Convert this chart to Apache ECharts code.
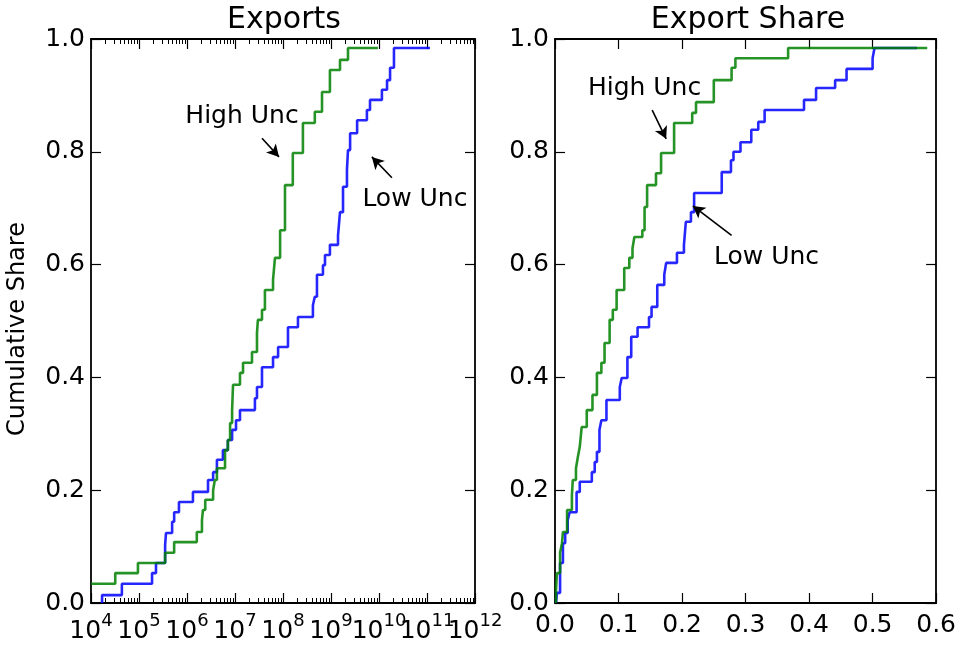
<!DOCTYPE html>
<html>
<head>
<meta charset="utf-8">
<script src="https://cdn.jsdelivr.net/npm/echarts@6/dist/echarts.min.js"></script>
<style>
html,body{margin:0;padding:0;background:#fff;}
#chart{width:959px;height:650px;}
</style>
</head>
<body>
<div id="chart"></div>
<script>
// ---- Data ----
const panelTitles = ['Exports', 'Export Share'];
const yAxisTitle = 'Cumulative Share';
const seriesNames = ['High Unc', 'Low Unc'];

// Left panel: exports (log scale), empirical CDF step points
const highUncExportsX = [1e4, 3.2e4, 9.5e4, 3.5e5, 5.4e5, 1.6e6, 2.05e6, 2.15e6, 2.4e6, 3.5e6, 3.8e6, 4.2e6, 6.2e6, 7.1e6, 7.9e6, 8.7e6, 9.1e6, 1.27e7, 1.47e7, 2.26e7, 2.87e7, 3.0e7, 3.65e7, 4.2e7, 6.2e7, 6.8e7, 8.7e7, 1.1e8, 1.6e8, 2.6e8, 4.6e8, 6.5e8, 9.5e8, 1.54e9, 2.26e9, 9.5e9];
const highUncExportsY = [0.034, 0.053, 0.071, 0.089, 0.108, 0.126, 0.147, 0.165, 0.183, 0.200, 0.218, 0.239, 0.271, 0.289, 0.319, 0.342, 0.387, 0.408, 0.426, 0.445, 0.479, 0.502, 0.520, 0.555, 0.573, 0.612, 0.661, 0.741, 0.798, 0.851, 0.871, 0.906, 0.945, 0.963, 0.984, 0.984];

const lowUncExportsX = [1.7e4, 1.7e4, 4.4e4, 1.87e5, 2.26e5, 3.5e5, 3.65e5, 4.9e5, 5.4e5, 6.8e5, 1.33e6, 2.74e6, 3.5e6, 4.2e6, 5.6e6, 7.1e6, 8.7e6, 1.05e7, 1.27e7, 2.6e7, 2.87e7, 3.65e7, 6.2e7, 7.9e7, 1.27e8, 2.05e8, 4.2e8, 4.6e8, 5.1e8, 6.8e8, 7.5e8, 9.5e8, 1.4e9, 1.54e9, 1.78e9, 2.15e9, 2.26e9, 2.5e9, 3.5e9, 5.6e9, 6.5e9, 1.15e10, 1.47e10, 1.7e10, 2.05e10, 1.15e11];
const lowUncExportsY = [0, 0.014, 0.034, 0.053, 0.071, 0.103, 0.124, 0.144, 0.161, 0.179, 0.197, 0.218, 0.232, 0.254, 0.271, 0.289, 0.307, 0.324, 0.342, 0.363, 0.383, 0.418, 0.436, 0.454, 0.489, 0.507, 0.528, 0.543, 0.582, 0.599, 0.617, 0.635, 0.652, 0.693, 0.738, 0.768, 0.803, 0.833, 0.856, 0.874, 0.892, 0.910, 0.927, 0.949, 0.984, 0.984];

// Right panel: export share, empirical CDF step points
const highUncShareX = [0.0016, 0.0016, 0.003, 0.008, 0.011, 0.0125, 0.019, 0.0266, 0.028, 0.033, 0.036, 0.039, 0.042, 0.05, 0.059, 0.066, 0.073, 0.078, 0.086, 0.091, 0.097, 0.109, 0.117, 0.122, 0.125, 0.1375, 0.141, 0.145, 0.159, 0.167, 0.1875, 0.216, 0.222, 0.25, 0.278, 0.284, 0.367, 0.586];
const highUncShareY = [0, 0.023, 0.053, 0.089, 0.106, 0.126, 0.165, 0.191, 0.218, 0.239, 0.259, 0.277, 0.312, 0.342, 0.369, 0.408, 0.426, 0.461, 0.502, 0.520, 0.555, 0.594, 0.612, 0.629, 0.649, 0.661, 0.702, 0.741, 0.762, 0.798, 0.851, 0.869, 0.888, 0.927, 0.949, 0.966, 0.984, 0.984];

const lowUncShareX = [0.0016, 0.003, 0.008, 0.0125, 0.016, 0.020, 0.023, 0.034, 0.039, 0.058, 0.0625, 0.066, 0.070, 0.073, 0.081, 0.102, 0.105, 0.114, 0.120, 0.130, 0.148, 0.152, 0.161, 0.172, 0.175, 0.192, 0.203, 0.206, 0.214, 0.219, 0.2625, 0.277, 0.281, 0.292, 0.309, 0.320, 0.330, 0.392, 0.411, 0.441, 0.459, 0.5, 0.503, 0.570];
const lowUncShareY = [0, 0.018, 0.071, 0.106, 0.124, 0.147, 0.161, 0.197, 0.215, 0.232, 0.250, 0.268, 0.307, 0.324, 0.360, 0.383, 0.399, 0.436, 0.472, 0.489, 0.507, 0.525, 0.564, 0.582, 0.603, 0.621, 0.635, 0.676, 0.693, 0.727, 0.764, 0.785, 0.800, 0.817, 0.839, 0.853, 0.874, 0.892, 0.913, 0.927, 0.947, 0.966, 0.984, 0.984];

// Tick values
const exportsMajorTicks = [1e4, 1e5, 1e6, 1e7, 1e8, 1e9, 1e10, 1e11, 1e12];
const shareTicks = [0, 0.1, 0.2, 0.3, 0.4, 0.5, 0.6];
const cumTicks = [0, 0.2, 0.4, 0.6, 0.8, 1.0];

// Annotations [textX, textY, arrowFromX, arrowFromY, arrowToX, arrowToY]
const annExportsHigh = [1.4e7, 0.863, 3.65e7, 0.824, 8.26e7, 0.791];
const annExportsLow = [5.6e10, 0.715, 1.86e10, 0.754, 7.1e9, 0.791];
const annShareHigh = [0.141, 0.913, 0.153, 0.874, 0.175, 0.823];
const annShareLow = [0.333, 0.613, 0.278, 0.652, 0.217, 0.704];

// ---- Chart ----
const FONT = 'DejaVu Sans';
const TICK_FS = 25;
const GREEN = 'rgba(0,128,0,0.85)';
const BLUE = 'rgba(0,0,255,0.85)';

const minorExportTicks = [];
for (let n = 4; n < 12; n++) for (let k = 2; k <= 9; k++) minorExportTicks.push(k * Math.pow(10, n));
// split labels over two axes so that none is dropped by overlap handling
const labelsEven = exportsMajorTicks.filter((v, i) => i % 2 === 0);
const labelsOdd = exportsMajorTicks.filter((v, i) => i % 2 === 1);

const zip = (xs, ys) => xs.map((x, i) => [x, ys[i]]);

function frameX(gridIndex, type, extra) {
  return Object.assign({
    gridIndex, type,
    axisLine: {show: true, onZero: false, lineStyle: {color: '#000', width: 1.8}},
    splitLine: {show: false},
    axisTick: {show: true, inside: true, length: 10, lineStyle: {color: '#000', width: 1.2}},
    axisLabel: {show: false}
  }, extra);
}

const logCommon = {min: 1e4, max: 1e12, logBase: 10};
const shareCommon = {min: 0, max: 0.6, interval: 0.1};

function powLabel(values) {
  return {
    show: true, customValues: values, margin: 9,
    hideOverlap: false,
    formatter: v => '{b|10}{s|' + Math.round(Math.log10(v)) + '}',
    rich: {
      b: {fontSize: TICK_FS, fontFamily: FONT, color: '#000', lineHeight: 32, verticalAlign: 'bottom'},
      s: {fontSize: 18, fontFamily: FONT, color: '#000', lineHeight: 18, verticalAlign: 'top'}
    }
  };
}

const xAxes = [
  // 0: left bottom major (ticks + every other label)
  frameX(0, 'log', Object.assign({}, logCommon, {
    position: 'bottom',
    axisTick: {show: true, inside: true, length: 10, customValues: exportsMajorTicks, lineStyle: {color: '#000', width: 1.2}},
    axisLabel: powLabel(labelsEven)
  })),
  // 1: left bottom minor ticks + remaining labels
  frameX(0, 'log', Object.assign({}, logCommon, {
    position: 'bottom', axisLine: {show: false, onZero: false},
    axisTick: {show: true, inside: true, length: 5, customValues: minorExportTicks, lineStyle: {color: '#000', width: 1}},
    axisLabel: powLabel(labelsOdd)
  })),
  // 2: left top major
  frameX(0, 'log', Object.assign({}, logCommon, {
    position: 'top',
    axisTick: {show: true, inside: true, length: 10, customValues: exportsMajorTicks, lineStyle: {color: '#000', width: 1.2}}
  })),
  // 3: left top minor
  frameX(0, 'log', Object.assign({}, logCommon, {
    position: 'top', axisLine: {show: false, onZero: false},
    axisTick: {show: true, inside: true, length: 5, customValues: minorExportTicks, lineStyle: {color: '#000', width: 1}}
  })),
  // 4: right bottom
  frameX(1, 'value', Object.assign({}, shareCommon, {
    position: 'bottom',
    axisLabel: {show: true, margin: 10, fontSize: TICK_FS, fontFamily: FONT, color: '#000',
      showMinLabel: true, showMaxLabel: true, formatter: v => v.toFixed(1)}
  })),
  // 5: right top
  frameX(1, 'value', Object.assign({}, shareCommon, {position: 'top'}))
];

function frameY(gridIndex, position, labels, name) {
  const ax = {
    gridIndex, type: 'value', min: 0, max: 1, interval: 0.2, position,
    axisLine: {show: true, onZero: false, lineStyle: {color: '#000', width: 1.8}},
    splitLine: {show: false},
    axisTick: {show: true, inside: true, length: 10, lineStyle: {color: '#000', width: 1.2}},
    axisLabel: {show: labels, margin: 6, fontSize: TICK_FS, fontFamily: FONT, color: '#000',
      showMinLabel: true, showMaxLabel: true, formatter: v => v.toFixed(1)}
  };
  if (name) {
    Object.assign(ax, {name, nameLocation: 'middle', nameRotate: 90, nameGap: 61,
      nameTextStyle: {fontSize: 24, fontFamily: FONT, color: '#000', padding: [0, 16, 0, 0]}});
  }
  return ax;
}

const yAxes = [
  frameY(0, 'left', true, yAxisTitle),
  frameY(0, 'right', false),
  frameY(1, 'left', true),
  frameY(1, 'right', false)
];

function annotations(ann, label) {
  return {
    markLine: {
      silent: true, animation: false,
      symbol: ['none', 'arrow'], symbolSize: [10, 12],
      lineStyle: {color: '#000', width: 1.6, type: 'solid'},
      label: {show: false},
      data: [[{coord: [ann[2], ann[3]]}, {coord: [ann[4], ann[5]]}]]
    },
    markPoint: {
      silent: true, animation: false,
      symbol: 'rect', symbolSize: 1, itemStyle: {color: 'rgba(0,0,0,0)'},
      label: {show: true, position: 'inside', formatter: label, fontSize: TICK_FS, fontFamily: FONT, color: '#000'},
      data: [{coord: [ann[0], ann[1]]}]
    }
  };
}

function stepSeries(name, xs, ys, color, xi, yi, ann) {
  return Object.assign({
    name, type: 'line', step: 'end', xAxisIndex: xi, yAxisIndex: yi,
    data: zip(xs, ys), showSymbol: false, symbol: 'none',
    lineStyle: {color, width: 2.6}, itemStyle: {color},
    animation: false, clip: true
  }, annotations(ann, name));
}

const titleStyle = {fontSize: 30, fontWeight: 'normal', fontFamily: FONT, color: '#000'};

const option = {
  backgroundColor: '#fff',
  animation: false,
  title: [
    {text: panelTitles[0], left: 279, top: 0, textAlign: 'center', textStyle: titleStyle},
    {text: panelTitles[1], left: 743, top: 0, textAlign: 'center', textStyle: titleStyle}
  ],
  grid: [
    {left: 91, top: 39, width: 384, height: 564},
    {left: 555, top: 39, width: 384, height: 564}
  ],
  xAxis: xAxes,
  yAxis: yAxes,
  series: [
    stepSeries(seriesNames[1], lowUncExportsX, lowUncExportsY, BLUE, 0, 0, annExportsLow),
    stepSeries(seriesNames[0], highUncExportsX, highUncExportsY, GREEN, 0, 0, annExportsHigh),
    stepSeries(seriesNames[1], lowUncShareX, lowUncShareY, BLUE, 4, 2, annShareLow),
    stepSeries(seriesNames[0], highUncShareX, highUncShareY, GREEN, 4, 2, annShareHigh)
  ]
};

const chart = echarts.init(document.getElementById('chart'), null, {renderer: 'canvas'});
chart.setOption(option);
</script>
</body>
</html>
